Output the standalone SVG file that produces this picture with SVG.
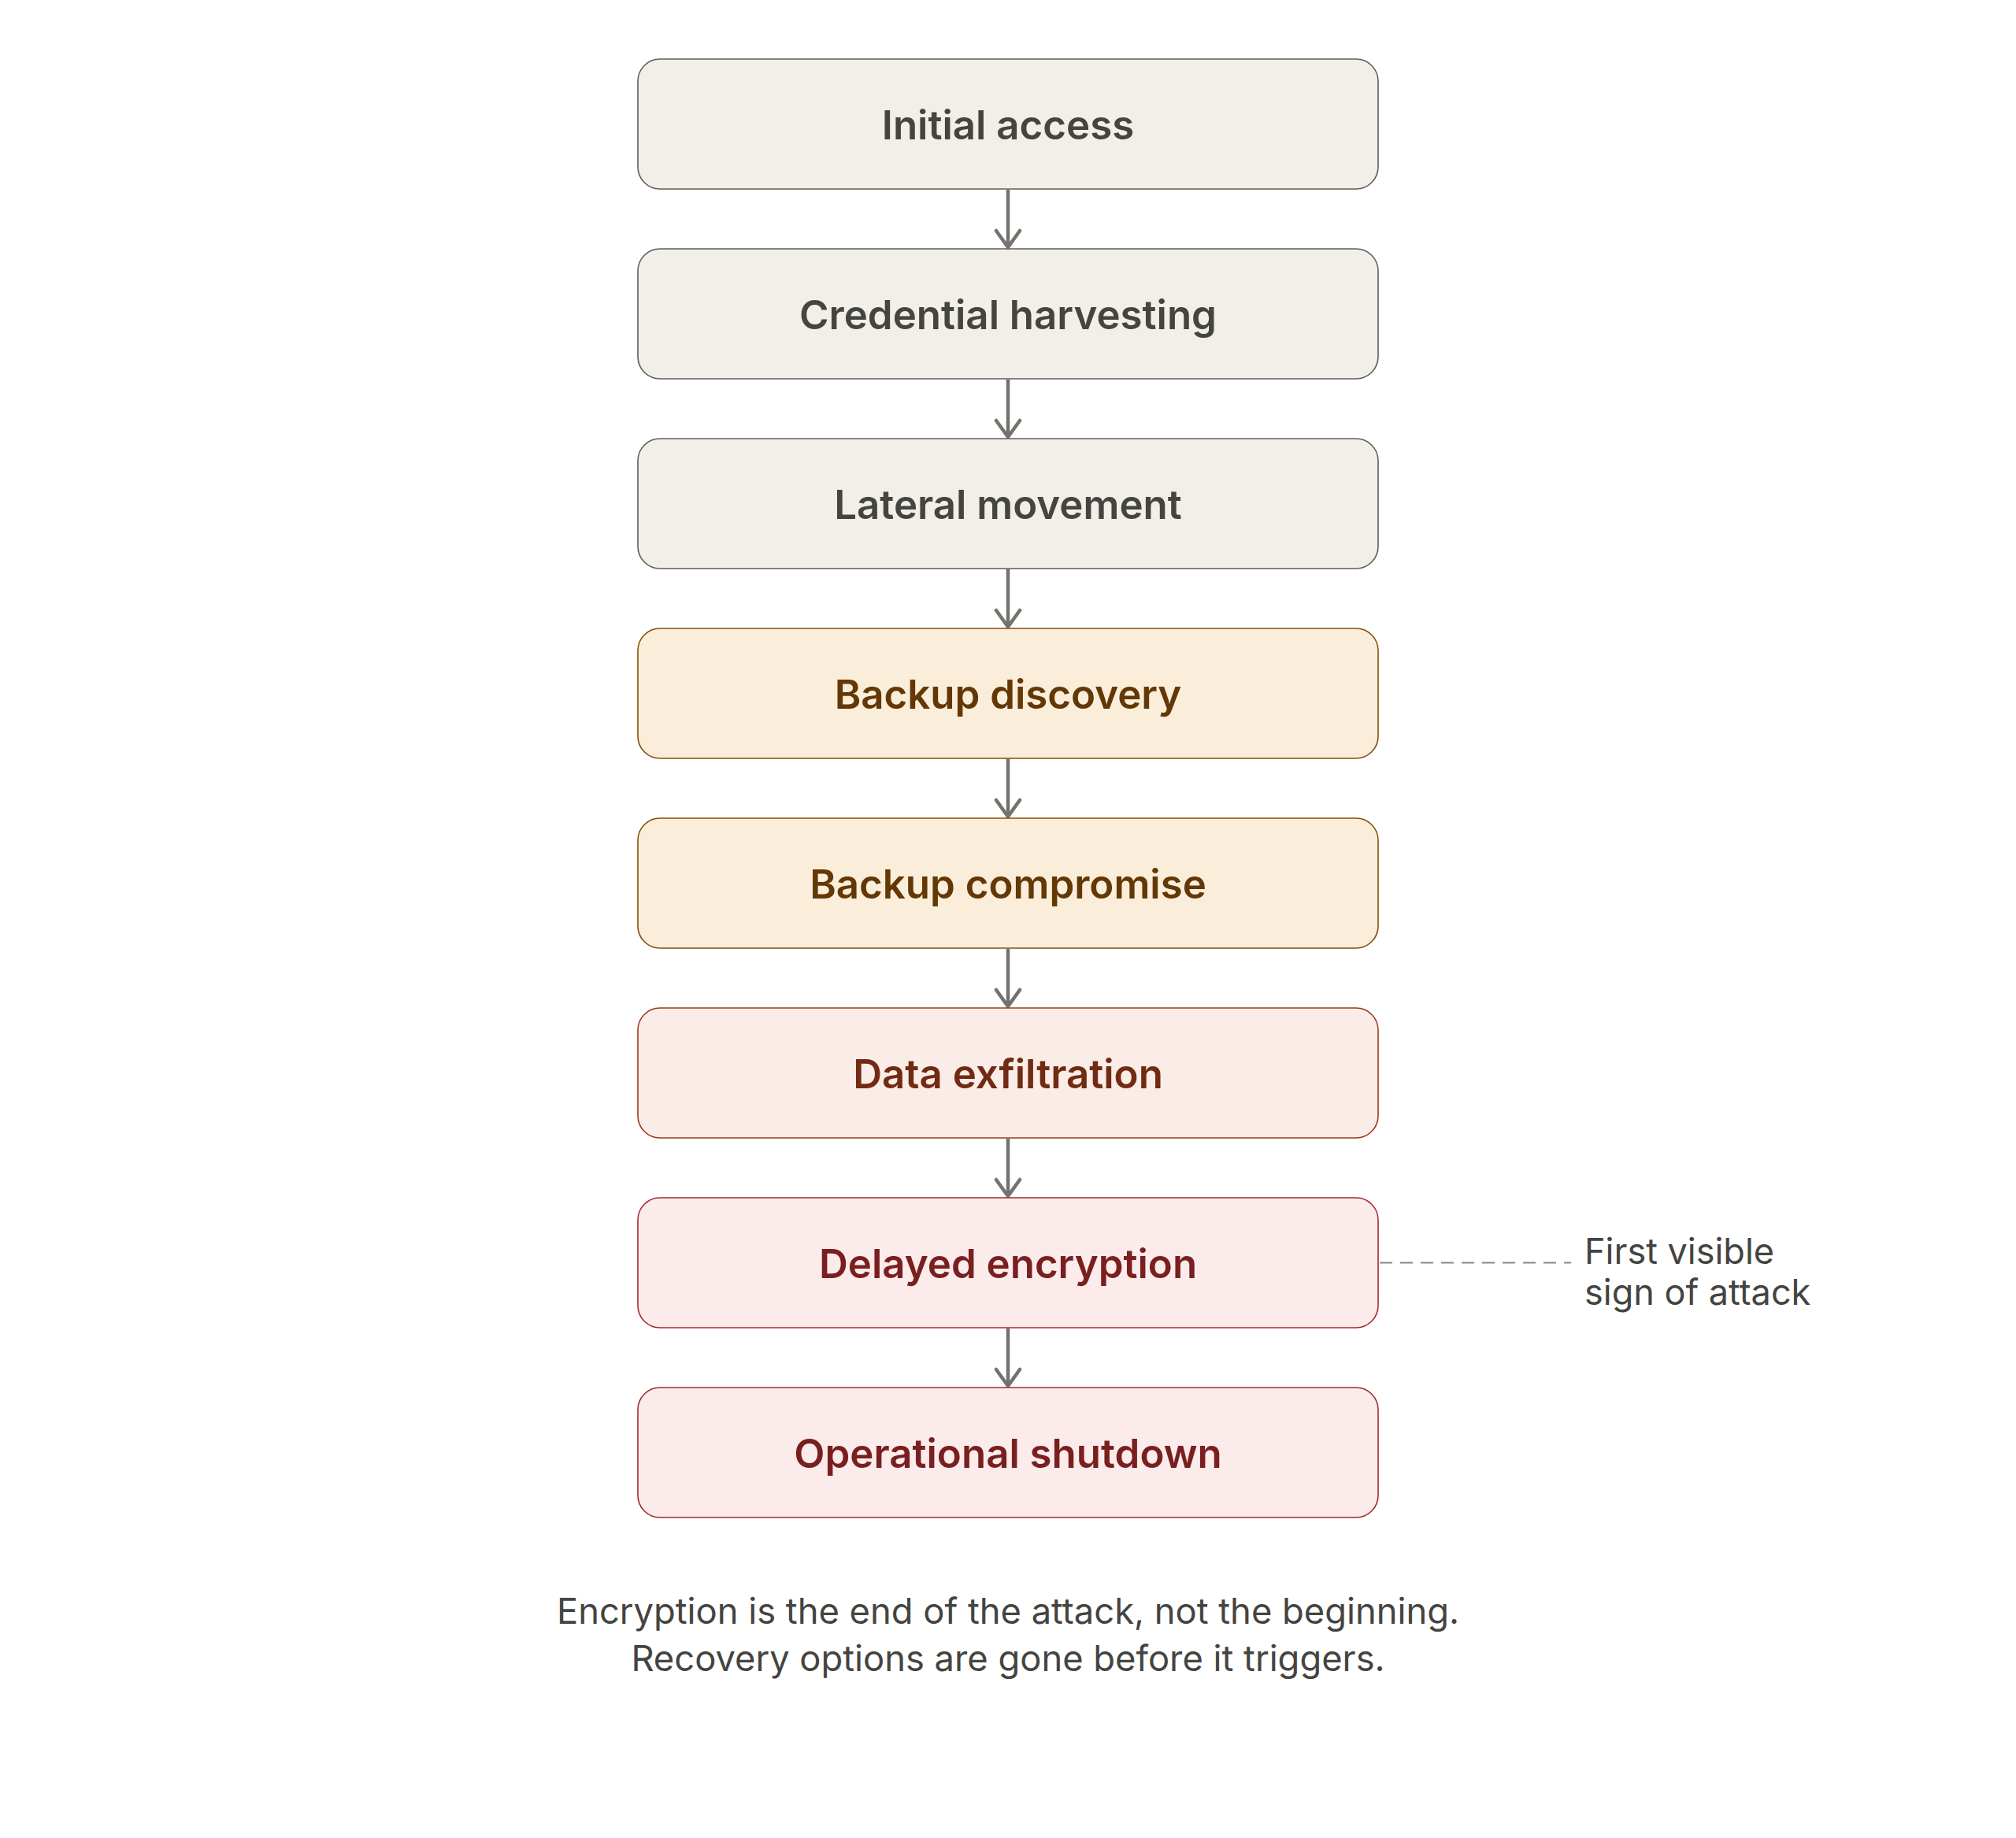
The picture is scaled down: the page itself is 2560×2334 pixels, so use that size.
<svg xmlns="http://www.w3.org/2000/svg" width="2560" height="2334" viewBox="0 0 2560 2334">
  <defs>
    <style>
      .box { stroke-width: 1.6; }
      .gray { fill: #f1efe8; stroke: #5f5e5a; }
      .amber { fill: #faeeda; stroke: #854f0b; }
      .coral { fill: #faece7; stroke: #993c1d; }
      .red { fill: #fcebeb; stroke: #a32d2d; }
      .label { font-family: Inter, "Noto Sans", "Liberation Sans", sans-serif; font-size: 51px; font-weight: 600; text-anchor: middle; }
      .t-gray { fill: #444441; }
      .t-amber { fill: #633806; }
      .t-coral { fill: #712b13; }
      .t-red { fill: #791f1f; }
      .edge { stroke: #73726c; stroke-width: 4.5; fill: none; }
      .note { font-family: Inter, "Noto Sans", "Liberation Sans", sans-serif; font-size: 45px; font-weight: 400; fill: #444441; }
      .caption { font-family: Inter, "Noto Sans", "Liberation Sans", sans-serif; font-size: 45.3px; font-weight: 400; fill: #444441; text-anchor: middle; }
    </style>
  </defs>
  <rect width="2560" height="2334" fill="#ffffff"/>

  <g id="connectors">
    <g class="edge">
      <line x1="1280" y1="241" x2="1280" y2="314"/>
      <polyline points="1265,293 1280,314 1295,293" stroke-linecap="round" stroke-linejoin="round"/>
      <line x1="1280" y1="482" x2="1280" y2="555"/>
      <polyline points="1265,534 1280,555 1295,534" stroke-linecap="round" stroke-linejoin="round"/>
      <line x1="1280" y1="723" x2="1280" y2="796"/>
      <polyline points="1265,775 1280,796 1295,775" stroke-linecap="round" stroke-linejoin="round"/>
      <line x1="1280" y1="964" x2="1280" y2="1037"/>
      <polyline points="1265,1016 1280,1037 1295,1016" stroke-linecap="round" stroke-linejoin="round"/>
      <line x1="1280" y1="1205" x2="1280" y2="1278"/>
      <polyline points="1265,1257 1280,1278 1295,1257" stroke-linecap="round" stroke-linejoin="round"/>
      <line x1="1280" y1="1446" x2="1280" y2="1519"/>
      <polyline points="1265,1498 1280,1519 1295,1498" stroke-linecap="round" stroke-linejoin="round"/>
      <line x1="1280" y1="1687" x2="1280" y2="1760"/>
      <polyline points="1265,1739 1280,1760 1295,1739" stroke-linecap="round" stroke-linejoin="round"/>
    </g>
    <line x1="1752" y1="1603.5" x2="1995" y2="1603.5" stroke="#888780" stroke-width="2" stroke-dasharray="16 10"/>
  </g>

  <g id="n1"><rect class="box gray" x="810" y="75" width="940" height="165" rx="28"/><text class="label t-gray" x="1280" y="177">Initial access</text></g>
  <g id="n2"><rect class="box gray" x="810" y="316" width="940" height="165" rx="28"/><text class="label t-gray" x="1280" y="418">Credential harvesting</text></g>
  <g id="n3"><rect class="box gray" x="810" y="557" width="940" height="165" rx="28"/><text class="label t-gray" x="1280" y="659">Lateral movement</text></g>
  <g id="n4"><rect class="box amber" x="810" y="798" width="940" height="165" rx="28"/><text class="label t-amber" x="1280" y="900">Backup discovery</text></g>
  <g id="n5"><rect class="box amber" x="810" y="1039" width="940" height="165" rx="28"/><text class="label t-amber" x="1280" y="1141">Backup compromise</text></g>
  <g id="n6"><rect class="box coral" x="810" y="1280" width="940" height="165" rx="28"/><text class="label t-coral" x="1280" y="1382">Data exfiltration</text></g>
  <g id="n7"><rect class="box red" x="810" y="1521" width="940" height="165" rx="28"/><text class="label t-red" x="1280" y="1623">Delayed encryption</text></g>
  <g id="n8"><rect class="box red" x="810" y="1762" width="940" height="165" rx="28"/><text class="label t-red" x="1280" y="1864">Operational shutdown</text></g>

  <g id="annotation">
    <text class="note" x="2012" y="1605">First visible</text>
    <text class="note" x="2012" y="1657">sign of attack</text>
  </g>

  <g id="caption">
    <text class="caption" x="1280" y="2062">Encryption is the end of the attack, not the beginning.</text>
    <text class="caption" x="1280" y="2122">Recovery options are gone before it triggers.</text>
  </g>
</svg>
